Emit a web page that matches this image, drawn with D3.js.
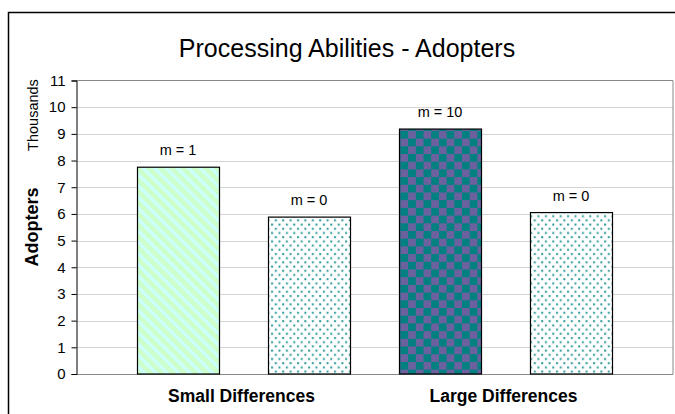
<!DOCTYPE html>
<html>
<head>
<meta charset="utf-8">
<script src="https://cdn.jsdelivr.net/npm/d3@7"></script>
<style>
  html, body { margin: 0; padding: 0; background: #fff; }
  svg { display: block; font-family: "Liberation Sans", Arial, sans-serif; }
</style>
</head>
<body>
<svg id="chart" width="675" height="414"></svg>
<script>
// Adopters (thousands) per processing-ability group
const categories = ["Small Differences", "Large Differences"];
const barIds = ["small-1", "small-0", "large-10", "large-0"];
const barCategory = ["Small Differences", "Small Differences", "Large Differences", "Large Differences"];
const barValues = [7.75, 5.88, 9.18, 6.05];
const barLabels = ["m = 1", "m = 0", "m = 10", "m = 0"];
const barFills = ["stripes", "dots", "checks", "dots"];
const yTicks = [0, 1, 2, 3, 4, 5, 6, 7, 8, 9, 10, 11];

const svg = d3.select("#chart");
const plot = { left: 76, right: 673, top: 80.5, bottom: 374 };

// fill patterns
const defs = svg.append("defs");
const stripes = defs.append("pattern").attr("id", "stripes")
  .attr("patternUnits", "userSpaceOnUse").attr("width", 8).attr("height", 8)
  .attr("patternTransform", "rotate(45)");
stripes.append("rect").attr("width", 8).attr("height", 8).attr("fill", "#ccffcc");
stripes.append("rect").attr("width", 8).attr("height", 3).attr("fill", "#ccffff");

const dots = defs.append("pattern").attr("id", "dots")
  .attr("patternUnits", "userSpaceOnUse").attr("width", 7.4).attr("height", 8.4);
dots.append("rect").attr("width", 7.4).attr("height", 8.4).attr("fill", "#ffffff");
dots.append("rect").attr("x", 1).attr("y", 1).attr("width", 2).attr("height", 2).attr("fill", "#2f9b9b");
dots.append("rect").attr("x", 4.7).attr("y", 5.2).attr("width", 2).attr("height", 2).attr("fill", "#2f9b9b");

const checks = defs.append("pattern").attr("id", "checks")
  .attr("patternUnits", "userSpaceOnUse").attr("width", 15.4).attr("height", 15.4);
checks.append("rect").attr("width", 15.4).attr("height", 15.4).attr("fill", "#008080");
checks.append("rect").attr("width", 7.7).attr("height", 7.7).attr("fill", "#6b619f");
checks.append("rect").attr("x", 7.7).attr("y", 7.7).attr("width", 7.7).attr("height", 7.7).attr("fill", "#6b619f");

// outer chart frame
svg.append("rect").attr("x", 8.5).attr("y", 12.5).attr("width", 700).attr("height", 500)
  .attr("fill", "none").attr("stroke", "#000").attr("stroke-width", 1.5);

// scales
const y = d3.scaleLinear().domain([0, 11]).range([plot.bottom, plot.top]);
const x = d3.scaleBand().domain(barIds).range([112.5, 636.5])
  .paddingInner(0.374).paddingOuter(0.187);

// gridlines
svg.append("g").selectAll("line").data(yTicks.filter(t => t > 0 && t < 11)).join("line")
  .attr("x1", plot.left).attr("x2", plot.right)
  .attr("y1", d => Math.round(y(d)) + 0.5).attr("y2", d => Math.round(y(d)) + 0.5)
  .attr("stroke", "#d4d4d4").attr("stroke-width", 1);

// plot area border (top, right, bottom)
svg.append("path")
  .attr("d", `M${plot.left},${plot.top}H${plot.right}V${plot.bottom + 0.5}H${plot.left}`)
  .attr("fill", "none").attr("stroke", "#888").attr("stroke-width", 1);

// y axis
const yAxis = svg.append("g").attr("transform", `translate(${plot.left + 0.5},0)`)
  .call(d3.axisLeft(y).tickValues(yTicks).tickSize(5).tickPadding(6).tickFormat(d3.format("d")));
yAxis.select(".domain").attr("stroke", "#000");
yAxis.selectAll(".tick line").attr("stroke", "#000");
yAxis.selectAll(".tick text").attr("font-size", 15).attr("fill", "#000")
  .attr("font-family", "'Liberation Sans', Arial, sans-serif");

// bars
svg.append("g").selectAll("rect").data(barIds).join("rect")
  .attr("x", d => x(d) + 0.5)
  .attr("y", (d, i) => y(barValues[i]))
  .attr("width", x.bandwidth())
  .attr("height", (d, i) => y(0) - y(barValues[i]))
  .attr("fill", (d, i) => `url(#${barFills[i]})`)
  .attr("stroke", "#000").attr("stroke-width", 1.2);

// value labels
svg.append("g").selectAll("text").data(barIds).join("text")
  .attr("x", d => x(d) + x.bandwidth() / 2)
  .attr("y", (d, i) => y(barValues[i]) - 12)
  .attr("text-anchor", "middle").attr("font-size", 14.5).attr("fill", "#000")
  .text((d, i) => barLabels[i]);

// category labels, centred under each pair of bars
svg.append("g").selectAll("text").data(categories).join("text")
  .attr("x", c => {
    const ids = barIds.filter((d, i) => barCategory[i] === c);
    return (x(ids[0]) + x(ids[ids.length - 1]) + x.bandwidth()) / 2 - 2;
  })
  .attr("y", 402)
  .attr("text-anchor", "middle").attr("font-size", 17.5).attr("font-weight", "bold")
  .text(c => c);

// title
svg.append("text").attr("x", 347).attr("y", 57).attr("text-anchor", "middle")
  .attr("font-size", 25).text("Processing Abilities - Adopters");

// axis titles
svg.append("text").attr("transform", "translate(38,115) rotate(-90)")
  .attr("text-anchor", "middle").attr("font-size", 14.5).text("Thousands");
svg.append("text").attr("transform", "translate(38,227) rotate(-90)")
  .attr("text-anchor", "middle").attr("font-size", 18).attr("font-weight", "bold").text("Adopters");
</script>
</body>
</html>
